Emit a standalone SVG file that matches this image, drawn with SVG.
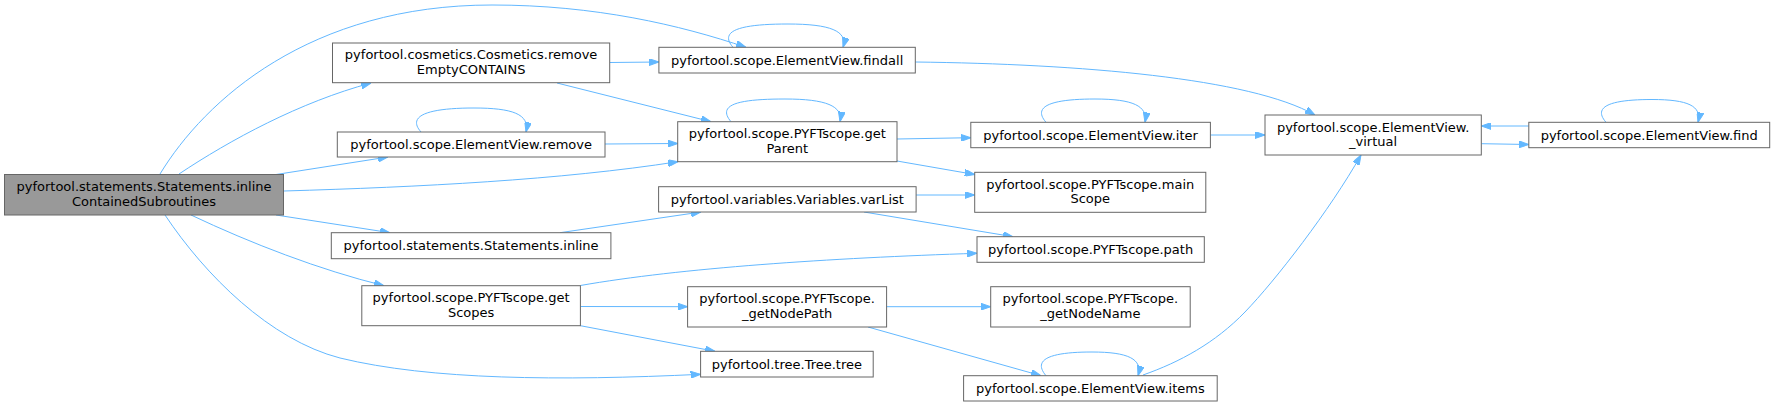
<svg xmlns="http://www.w3.org/2000/svg" width="1775" height="406" viewBox="0 0 1775 406">
<style>
.node rect{fill:#ffffff;stroke:#666666;stroke-width:1}
.root rect{fill:#999999}
text{font-family:"DejaVu Sans","Liberation Sans",sans-serif;font-size:13px;text-anchor:middle;fill:#000000}
.edges path{fill:none;stroke:#63b8ff;stroke-width:1;marker-end:url(#arr)}
</style>
<defs>
<marker id="arr" viewBox="0 0 10 7" refX="10" refY="3.5" markerWidth="10" markerHeight="7" markerUnits="userSpaceOnUse" orient="auto">
<path d="M0,0 L10,3.5 L0,7 z" fill="#63b8ff" stroke="#63b8ff"/>
</marker>
</defs>
<rect width="1775" height="406" fill="#ffffff"/>
<g class="edges">
<path d="M160,174 C205,100 310,5 492,5 C595,5 680,25 746,47.3"/>
<path d="M179,174 C230,140 300,102 371,83"/>
<path d="M276,174.5 L388,157"/>
<path d="M284,191 C420,187 560,180 678,161.7"/>
<path d="M276,215 L390,232.7"/>
<path d="M191,215 C250,243 320,270 384,285.7"/>
<path d="M165,215 C205,275 270,340 340,358 C430,380 560,381 700.6,374.3"/>
<path d="M610,62.5 L658.9,62"/>
<path d="M557,83 L711,121.7"/>
<path d="M605,144 L677.7,143.5"/>
<path d="M560,232.7 L701,212"/>
<path d="M580.4,285.5 C680,268 830,258 977,253.3"/>
<path d="M580.4,306.5 L687.6,306.7"/>
<path d="M580.4,325.7 L715,351.3"/>
<path d="M915.3,62 C1080,64 1250,78 1315,115"/>
<path d="M897,139 L970.8,137.7"/>
<path d="M897,161 L974.7,174.5"/>
<path d="M916.1,195 L974.7,195"/>
<path d="M864,212 L1013,236.7"/>
<path d="M1210.4,135 L1265,135"/>
<path d="M1481.3,143.7 L1528.8,144.5"/>
<path d="M1528.8,126 L1481.3,126"/>
<path d="M886.6,306.7 L990.7,306.7"/>
<path d="M868,327 L1041,375.7"/>
<path d="M1143,375 C1180,362 1215,343 1245,312 C1275,281 1330,210 1361,155"/>
<path d="M733,47.3 C718,30 742,24 788,24 C830,24 848,31 843,47.3"/>
<path d="M731,121.7 C716,104 740,99 785,99 C826,99 843,106 840,121.7"/>
<path d="M1046,122.3 C1031,105 1055,99 1095,99 C1133,99 1148,106 1145,122.3"/>
<path d="M1606,122.3 C1591,105 1615,99.5 1652,99.5 C1688,99.5 1702,106 1698,122.3"/>
<path d="M421,132 C406,115 430,108 474,108 C512,108 530,114 526,132"/>
<path d="M1046,375.7 C1031,358 1054,352 1092,352 C1128,352 1143,359 1138,375.7"/>
</g>
<g id="n_root" class="node root"><rect x="4.5" y="174.5" width="279" height="40.5"/><text x="144" y="191.2">pyfortool.statements.Statements.inline</text><text x="144" y="205.7">ContainedSubroutines</text></g>
<g id="n_removeEmptyCONTAINS" class="node"><rect x="332.5" y="43" width="277.2" height="39.7"/><text x="471.1" y="59.4">pyfortool.cosmetics.Cosmetics.remove</text><text x="471.1" y="73.9">EmptyCONTAINS</text></g>
<g id="n_remove" class="node"><rect x="337.3" y="132" width="267.7" height="25"/><text x="471.1" y="149">pyfortool.scope.ElementView.remove</text></g>
<g id="n_inline" class="node"><rect x="331.3" y="232.7" width="279.6" height="26"/><text x="471.1" y="250.2">pyfortool.statements.Statements.inline</text></g>
<g id="n_getScopes" class="node"><rect x="361.8" y="285.7" width="218.6" height="40"/><text x="471.1" y="302.2">pyfortool.scope.PYFTscope.get</text><text x="471.1" y="316.7">Scopes</text></g>
<g id="n_findall" class="node"><rect x="658.9" y="47.3" width="256.4" height="25.7"/><text x="787.1" y="64.6">pyfortool.scope.ElementView.findall</text></g>
<g id="n_getParent" class="node"><rect x="677.7" y="121.7" width="219.3" height="40"/><text x="787.3" y="138.2">pyfortool.scope.PYFTscope.get</text><text x="787.3" y="152.7">Parent</text></g>
<g id="n_varList" class="node"><rect x="658.6" y="186.7" width="257.5" height="25.3"/><text x="787.3" y="203.8">pyfortool.variables.Variables.varList</text></g>
<g id="n_getNodePath" class="node"><rect x="687.6" y="286.7" width="199" height="40.3"/><text x="787.1" y="303.3">pyfortool.scope.PYFTscope.</text><text x="787.1" y="317.8">_getNodePath</text></g>
<g id="n_tree" class="node"><rect x="700.6" y="351.3" width="172.6" height="25.7"/><text x="786.9" y="368.6">pyfortool.tree.Tree.tree</text></g>
<g id="n_iter" class="node"><rect x="970.8" y="122.3" width="239.6" height="25.4"/><text x="1090.6" y="139.5">pyfortool.scope.ElementView.iter</text></g>
<g id="n_mainScope" class="node"><rect x="974.7" y="172.3" width="231.1" height="40"/><text x="1090.2" y="188.8">pyfortool.scope.PYFTscope.main</text><text x="1090.2" y="203.3">Scope</text></g>
<g id="n_path" class="node"><rect x="977" y="236.7" width="227.3" height="25.6"/><text x="1090.6" y="254">pyfortool.scope.PYFTscope.path</text></g>
<g id="n_getNodeName" class="node"><rect x="990.7" y="286.7" width="199.5" height="40.3"/><text x="1090.4" y="303.3">pyfortool.scope.PYFTscope.</text><text x="1090.4" y="317.8">_getNodeName</text></g>
<g id="n_items" class="node"><rect x="963.6" y="375.7" width="253.6" height="25.3"/><text x="1090.4" y="392.8">pyfortool.scope.ElementView.items</text></g>
<g id="n_virtual" class="node"><rect x="1265" y="115" width="216.3" height="40"/><text x="1373.1" y="131.5">pyfortool.scope.ElementView.</text><text x="1373.1" y="146">_virtual</text></g>
<g id="n_find" class="node"><rect x="1528.8" y="122.3" width="240.9" height="25.4"/><text x="1649.2" y="139.5">pyfortool.scope.ElementView.find</text></g>
</svg>
